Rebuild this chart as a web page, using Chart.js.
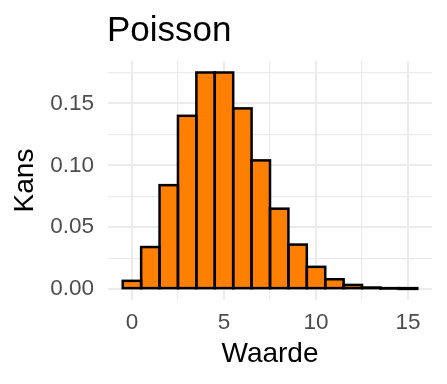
<!DOCTYPE html>
<html>
<head>
<meta charset="utf-8">
<script src="https://cdn.jsdelivr.net/npm/chart.js@4"></script>
<style>
    body { margin: 0; background: #fff; }
    canvas { display: block; }
</style>
</head>
<body>
<canvas id="poissonChart" width="447" height="384"></canvas>
<script>
const waarden = [0, 1, 2, 3, 4, 5, 6, 7, 8, 9, 10, 11, 12, 13, 14, 15];
const kansen = [0.0067, 0.034, 0.084, 0.140, 0.175, 0.175, 0.146, 0.104, 0.065, 0.036, 0.018, 0.008, 0.0034, 0.0013, 0.0005, 0.0002];
const xTickLabels = [0, 5, 10, 15];
const yTickLabels = [0, 0.05, 0.10, 0.15];

const fontFamily = "'Liberation Sans', Arial, Helvetica, sans-serif";
const gridColor = "#EBEBEB";

const titlePlugin = {
    id: "ggTitle",
    afterDraw(chart) {
        const ctx = chart.ctx;
        ctx.save();
        ctx.font = "35px " + fontFamily;
        ctx.fillStyle = "#000";
        ctx.textBaseline = "alphabetic";
        ctx.textAlign = "left";
        ctx.fillText("Poisson", chart.chartArea.left - 1, 41);
        ctx.restore();
    }
};

// ggplot draws the bar outline centred on the bar edges, so stroke each bar ourselves
const outlinePlugin = {
    id: "barOutline",
    afterDatasetsDraw(chart) {
        const ctx = chart.ctx;
        ctx.save();
        ctx.strokeStyle = "#000";
        ctx.lineWidth = 2.5;
        ctx.lineJoin = "miter";
        chart.getDatasetMeta(0).data.forEach(bar => {
            const { x, y, base, width } = bar.getProps(["x", "y", "base", "width"], true);
            ctx.strokeRect(x - width / 2, Math.min(y, base), width, Math.abs(base - y));
        });
        ctx.restore();
    }
};

const isMajor = (c, step) => {
    if (!c.tick) return true;
    const v = c.tick.value;
    return Math.abs(v / step - Math.round(v / step)) < 1e-6;
};

new Chart(document.getElementById("poissonChart"), {
    type: "bar",
    data: {
        datasets: [{
            data: waarden.map((w, i) => ({ x: w, y: kansen[i] })),
            backgroundColor: "#FF7F00",
            borderWidth: 0,
            inflateAmount: 0,
            barPercentage: 1,
            categoryPercentage: 1
        }]
    },
    options: {
        responsive: false,
        animation: false,
        layout: { padding: { top: 61, right: 15, left: 0, bottom: 0 } },
        plugins: {
            legend: { display: false },
            tooltip: { enabled: false }
        },
        scales: {
            x: {
                type: "linear",
                min: -1.3,
                max: 16.3,
                offset: false,
                border: { display: false },
                grid: {
                    offset: false,
                    color: gridColor,
                    drawTicks: false,
                    lineWidth: c => isMajor(c, 5) ? 2 : 1.2
                },
                ticks: {
                    stepSize: 2.5,
                    includeBounds: false,
                    autoSkip: false,
                    maxRotation: 0,
                    padding: 9,
                    color: "#4D4D4D",
                    font: { family: fontFamily, size: 22.5 },
                    callback: v => xTickLabels.includes(v) ? String(v) : ""
                },
                title: {
                    display: true,
                    text: "Waarde",
                    color: "#000",
                    font: { family: fontFamily, size: 28 },
                    padding: { top: 0, bottom: 13 }
                },
                afterFit: axis => { axis.height = 84; }
            },
            y: {
                min: -0.008775,
                max: 0.18428,
                border: { display: false },
                grid: {
                    color: gridColor,
                    drawTicks: false,
                    lineWidth: c => isMajor(c, 0.05) ? 2 : 1.2
                },
                ticks: {
                    stepSize: 0.025,
                    includeBounds: false,
                    autoSkip: false,
                    padding: 14,
                    color: "#4D4D4D",
                    font: { family: fontFamily, size: 22.5 },
                    callback: v => yTickLabels.some(t => Math.abs(t - v) < 1e-6) ? v.toFixed(2) : ""
                },
                title: {
                    display: true,
                    text: "Kans",
                    color: "#000",
                    font: { family: fontFamily, size: 28 },
                    padding: { top: 8, bottom: 0 }
                },
                afterFit: axis => { axis.width = 108; }
            }
        }
    },
    plugins: [outlinePlugin, titlePlugin]
});
</script>
</body>
</html>
